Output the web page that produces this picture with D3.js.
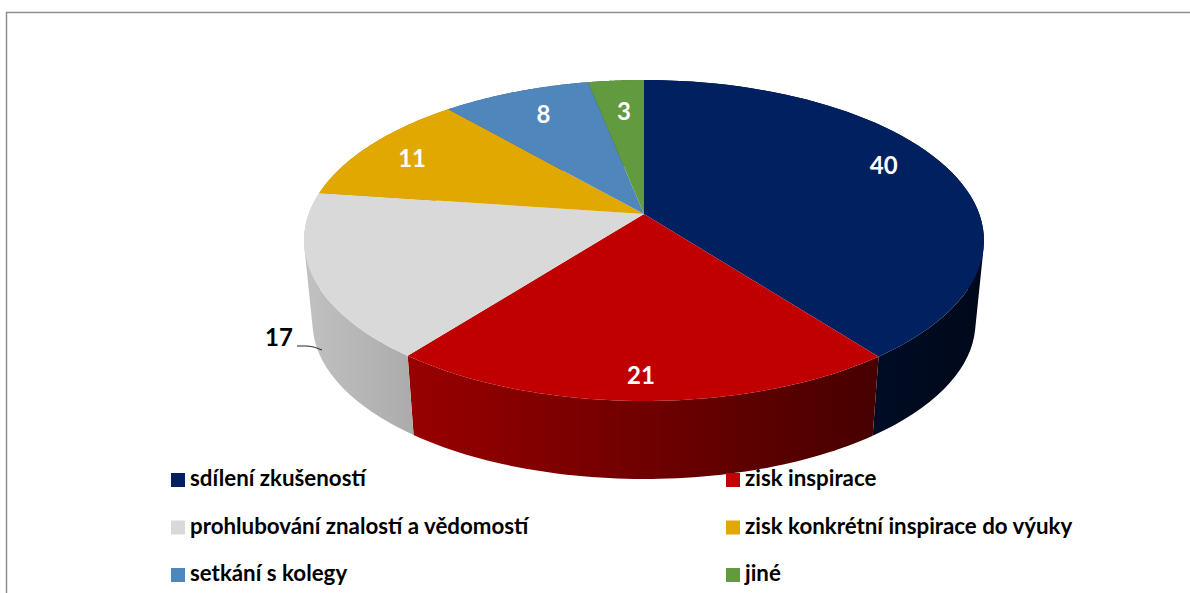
<!DOCTYPE html>
<html>
<head>
<meta charset="utf-8">
<script src="https://cdn.jsdelivr.net/npm/d3@7"></script>
<style>
	html, body { margin: 0; padding: 0; background: #fff; overflow: hidden; }
	svg { display: block; }
	text { font-family: Lato, "Open Sans", sans-serif; font-weight: 700; }
</style>
</head>
<body>
<svg id="chart"></svg>
<script>
// The chart's values. The labels show them rounded.
var categories = ["sdílení zkušeností", "zisk inspirace", "prohlubování znalostí a vědomostí", "zisk konkrétní inspirace do výuky", "setkání s kolegy", "jiné"];
var values = [39.6, 20.9, 16.7, 11.4, 8.3, 3.1];
var colours = ["#002060", "#C00000", "#D9D9D9", "#E0A800", "#4F86BC", "#629A3F"];

// Definitions.
var width = 1190;
var height = 593;
var centreX = 644;
var apexY = 214;        // Where the slices meet on the top face.
var sideApexY = 296.7;  // The same point on the bottom face.
var sideScale = 0.975;  // The bottom face is further away, so a bit smaller.
var scaleX = 335.3;
var scaleY = 156.1;
var tilt = 0.165;       // Perspective strength, front of the pie is bigger.

var svg = d3.select("#chart")
	.attr("width", width)
	.attr("height", height);

// Frame of the chart area, cut off by the screenshot on the right and bottom.
svg.append("path")
	.attr("d", "M6.5,593V12.5H1190")
	.attr("fill", "none")
	.attr("stroke", "#8e8e8e")
	.attr("stroke-width", 1.5);

// Map a point of the unit disc on to the screen.
function project(angle, radius, originY, scale)
{
	var x = radius * Math.sin(angle);
	var y = -radius * Math.cos(angle);
	var w = 1 - tilt * y;
	return [centreX + scale * scaleX * x / w, originY + scale * scaleY * y / w];
}

var slices = d3.pie().sort(null).value(function(d) { return d; })(values);
var line = d3.line();

// Points along the rim between two angles.
function rim(start, end, originY, scale)
{
	var angles = d3.range(0, 61).map(d3.scaleLinear().domain([0, 60]).range([start, end]));
	return angles.map(function(a) { return project(a, 1, originY, scale); });
}

// Side wall shading goes left to right across the whole pie.
var shade = d3.scaleLinear().domain([304, 984]).range([0.89, 0.27]);
var defs = svg.append("defs");
slices.forEach(function(slice, i)
{
	var gradient = defs.append("linearGradient")
		.attr("id", "side-" + i)
		.attr("gradientUnits", "userSpaceOnUse")
		.attr("x1", shade.domain()[0])
		.attr("x2", shade.domain()[1])
		.attr("y1", 0)
		.attr("y2", 0);
	var base = d3.rgb(colours[i]);
	shade.domain().forEach(function(x, j)
	{
		var f = shade(x);
		gradient.append("stop")
			.attr("offset", j)
			.attr("stop-color", d3.rgb(base.r * f, base.g * f, base.b * f).formatHex());
	});
});

// Walls first, the top faces cover whatever is at the back.
// Each wall is a run of small quads so the outline follows the tangent at the far left and right.
// All quads must wind the same way or the overlapping ones at the tangent cancel out.
svg.selectAll(".side")
	.data(slices)
	.enter()
	.append("path")
	.classed("side", true)
	.attr("fill", function(d, i) { return "url(#side-" + i + ")"; })
	.attr("d", function(d)
	{
		var top = rim(d.startAngle, d.endAngle, apexY, 1);
		var bottom = rim(d.startAngle, d.endAngle, sideApexY, sideScale);
		var quads = "";
		for (var i = 0; i < top.length - 1; i++)
		{
			var quad = [top[i], top[i + 1], bottom[i + 1], bottom[i]];
			if (d3.polygonArea(quad) < 0) { quad.reverse(); }
			quads += line(quad) + "Z";
		}
		return quads;
	});

svg.selectAll(".face")
	.data(slices)
	.enter()
	.append("path")
	.classed("face", true)
	.attr("fill", function(d, i) { return colours[i]; })
	.attr("d", function(d)
	{
		var points = [[centreX, apexY]].concat(rim(d.startAngle, d.endAngle, apexY, 1));
		return line(points) + "Z";
	});

// Data labels, nudged from the middle of their slice as in the original.
var labelRadius = 0.8;
var labelNudges = [[-4, -10.5], [-2, 18], [0, 0], [-10, 0], [5, 1], [3, 7]];
svg.selectAll(".label")
	.data(slices)
	.enter()
	.append("text")
	.classed("label", true)
	.attr("text-anchor", "middle")
	.attr("font-size", 24)
	.attr("fill", function(d, i) { return i == 2 ? "#000" : "#fff"; })
	.text(function(d) { return d3.format(".0f")(d.value); })
	.attr("x", function(d, i)
	{
		if (i == 2) { return 279; }
		return project((d.startAngle + d.endAngle) / 2, labelRadius, apexY, 1)[0] + labelNudges[i][0];
	})
	.attr("y", function(d, i)
	{
		if (i == 2) { return 346; }
		return project((d.startAngle + d.endAngle) / 2, labelRadius, apexY, 1)[1] + labelNudges[i][1] + 8.5;
	});

// Leader line of the one outside label.
svg.append("path")
	.attr("d", "M297,346H306C312,346 317,348 322,350")
	.attr("fill", "none")
	.attr("stroke", "#222")
	.attr("stroke-width", 1);

// Legend, two columns with three rows.
var legendX = d3.scalePoint().domain([0, 1]).range([171, 726]);
var legendY = d3.scalePoint().domain([0, 1, 2]).range([473, 568]);
var legend = svg.selectAll(".legend")
	.data(categories)
	.enter()
	.append("g")
	.classed("legend", true)
	.attr("transform", function(d, i) { return "translate(" + legendX(i % 2) + "," + legendY(Math.floor(i / 2)) + ")"; });
legend.append("rect")
	.attr("width", 14)
	.attr("height", 14)
	.attr("fill", function(d, i) { return colours[i]; });
legend.append("text")
	.attr("x", 19)
	.attr("y", 13)
	.attr("font-size", 22.3)
	.attr("fill", "#000")
	.text(function(d) { return d; });
</script>
</body>
</html>
